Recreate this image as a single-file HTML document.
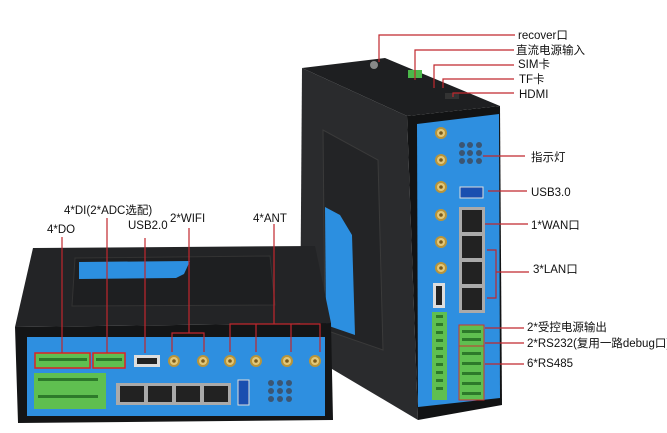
<!DOCTYPE html>
<html><head><meta charset="utf-8"><style>
html,body{margin:0;padding:0;background:#fff;width:667px;height:433px;overflow:hidden}
svg{display:block}
text{font-family:"Liberation Sans","Noto Sans CJK SC",sans-serif;font-size:11.5px;fill:#111}
</style></head><body>
<svg width="667" height="433" viewBox="0 0 667 433" xmlns="http://www.w3.org/2000/svg">
<defs>
<g id="ant"><circle r="6" fill="#b8943a"/><circle r="4" fill="#e3c878"/><circle r="1.8" fill="#7a5a1a"/></g>
</defs>
<!-- Right device -->
<polygon points="302,68 385,58 500,106 407,116" fill="#1e1f21"/>
<polygon points="302,68 407,116 418,420 300,350" fill="#2a2b2d"/>
<polygon points="407,116 500,106 502,405 418,420" fill="#121314"/>
<polygon points="323,130 378,160 383,350 325,330" fill="#232426" stroke="#3a3a3a" stroke-width="1"/>
<polygon points="325,207 340,215 352,235 355,335 326,325" fill="#2c8fe0"/>
<polygon points="417,124 499,114 500,398 418,407" fill="#2e8fe0"/>
<rect x="408" y="70" width="14" height="8" fill="#4cb84a"/>
<rect x="445" y="93" width="14" height="6" fill="#333"/>
<circle cx="374" cy="65" r="4" fill="#888"/>
<use href="#ant" x="441" y="133"/><use href="#ant" x="441" y="160"/><use href="#ant" x="441" y="187"/>
<use href="#ant" x="441" y="215"/><use href="#ant" x="441" y="242"/><use href="#ant" x="441" y="268"/>
<g fill="#3b5572">
<circle cx="462" cy="145" r="3"/><circle cx="470" cy="145" r="3"/><circle cx="479" cy="145" r="3"/>
<circle cx="462" cy="153" r="3"/><circle cx="470" cy="153" r="3"/><circle cx="479" cy="153" r="3"/>
<circle cx="462" cy="161" r="3"/><circle cx="470" cy="161" r="3"/><circle cx="479" cy="161" r="3"/>
</g>
<rect x="460" y="187" width="23" height="11" fill="#1a4fb0" stroke="#ddd"/>
<rect x="433" y="283" width="12" height="25" fill="#ddd"/><rect x="436" y="286" width="6" height="19" fill="#222"/>
<rect x="459" y="207" width="26" height="106" fill="#aaa"/>
<rect x="462" y="210" width="20" height="22" fill="#222"/><rect x="462" y="236" width="20" height="22" fill="#222"/>
<rect x="462" y="262" width="20" height="22" fill="#222"/><rect x="462" y="288" width="20" height="22" fill="#222"/>
<rect x="432" y="312" width="15" height="88" fill="#5fbf50"/>
<g fill="#2d7a2a"><rect x="436" y="315" width="7" height="3"/><rect x="436" y="323" width="7" height="3"/><rect x="436" y="331" width="7" height="3"/><rect x="436" y="339" width="7" height="3"/><rect x="436" y="347" width="7" height="3"/><rect x="436" y="355" width="7" height="3"/><rect x="436" y="363" width="7" height="3"/><rect x="436" y="371" width="7" height="3"/><rect x="436" y="379" width="7" height="3"/><rect x="436" y="387" width="7" height="3"/></g>
<rect x="459" y="325" width="25" height="75" fill="#5fbf50" stroke="#c33" stroke-width="1"/>
<line x1="459" y1="346" x2="484" y2="346" stroke="#c33"/>
<g fill="#2d7a2a"><rect x="462" y="330" width="19" height="3"/><rect x="462" y="338" width="19" height="3"/><rect x="462" y="352" width="19" height="3"/><rect x="462" y="362" width="19" height="3"/><rect x="462" y="372" width="19" height="3"/><rect x="462" y="382" width="19" height="3"/><rect x="462" y="392" width="19" height="3"/></g>
<!-- Left device -->
<polygon points="33,248 315,246 331,323 15,327" fill="#232426"/>
<polygon points="75,258 270,256 275,305 72,306" fill="#1e1f21" stroke="#333"/>
<polygon points="79,262 190,261 184,274 176,278 79,279" fill="#2c8fe0"/>
<polygon points="15,327 331,323 333,420 18,423" fill="#141516"/>
<rect x="27" y="337" width="298" height="79" fill="#2e8fe0"/>
<rect x="35" y="353" width="55" height="15" fill="#5fbf50" stroke="#d22" stroke-width="1.5"/>
<rect x="93" y="353" width="32" height="15" fill="#5fbf50" stroke="#d22" stroke-width="1.5"/>
<rect x="34" y="373" width="72" height="36" fill="#5fbf50"/>
<g fill="#2d7a2a"><rect x="38" y="378" width="60" height="3"/><rect x="38" y="395" width="60" height="3"/><rect x="39" y="358" width="48" height="3"/><rect x="96" y="358" width="26" height="3"/></g>
<rect x="134" y="355" width="26" height="12" fill="#ddd"/><rect x="137" y="358" width="20" height="6" fill="#222"/>
<use href="#ant" x="174" y="361"/><use href="#ant" x="203" y="361"/><use href="#ant" x="230" y="361"/>
<use href="#ant" x="256" y="361"/><use href="#ant" x="287" y="361"/><use href="#ant" x="315" y="361"/>
<rect x="116" y="383" width="115" height="22" fill="#aaa"/>
<rect x="120" y="386" width="24" height="16" fill="#222"/><rect x="148" y="386" width="24" height="16" fill="#222"/>
<rect x="176" y="386" width="24" height="16" fill="#222"/><rect x="204" y="386" width="24" height="16" fill="#222"/>
<rect x="238" y="380" width="11" height="25" fill="#1a4fb0" stroke="#ddd"/>
<g fill="#3b5572"><circle cx="271" cy="383" r="3"/><circle cx="280" cy="383" r="3"/><circle cx="289" cy="383" r="3"/><circle cx="271" cy="391" r="3"/><circle cx="280" cy="391" r="3"/><circle cx="289" cy="391" r="3"/><circle cx="271" cy="399" r="3"/><circle cx="280" cy="399" r="3"/><circle cx="289" cy="399" r="3"/></g>
<!-- callout lines -->
<g stroke="#c0272d" stroke-width="1.2" fill="none">
<polyline points="379,62 379,35 515,35"/>
<polyline points="415,80 415,50 514,50"/>
<polyline points="434,88 434,65 514,65"/>
<polyline points="443,88 443,79 514,79"/>
<polyline points="453,97 453,93 514,93"/>
<line x1="483" y1="156" x2="525" y2="156"/>
<line x1="488" y1="191" x2="527" y2="191"/>
<line x1="485" y1="224" x2="528" y2="224"/>
<polyline points="487,250 496,250 496,298 487,298"/>
<line x1="496" y1="272" x2="529" y2="272"/>
<line x1="485" y1="328" x2="524" y2="328"/>
<line x1="485" y1="343" x2="524" y2="343"/>
<line x1="485" y1="364" x2="524" y2="364"/>
<line x1="62" y1="237" x2="62" y2="353"/>
<line x1="107" y1="218" x2="107" y2="353"/>
<line x1="145" y1="238" x2="145" y2="353"/>
<polyline points="189,228 189,333"/>
<polyline points="172,352 172,333 204,333 204,352"/>
<line x1="274" y1="224" x2="274" y2="324"/>
<polyline points="230,352 230,324 320,324 320,352"/>
<line x1="256" y1="324" x2="256" y2="352"/><line x1="291" y1="324" x2="291" y2="352"/>
</g>
<!-- labels -->
<text x="518" y="39">recover口</text>
<text x="516" y="54">直流电源输入</text>
<text x="518" y="68">SIM卡</text>
<text x="519" y="83">TF卡</text>
<text x="519" y="98">HDMI</text>
<text x="531" y="161">指示灯</text>
<text x="531" y="196">USB3.0</text>
<text x="531" y="229">1*WAN口</text>
<text x="533" y="273">3*LAN口</text>
<text x="527" y="331">2*受控电源输出</text>
<text x="527" y="347">2*RS232(复用一路debug口)</text>
<text x="527" y="367">6*RS485</text>
<text x="64" y="214">4*DI(2*ADC选配)</text>
<text x="47" y="233">4*DO</text>
<text x="128" y="229">USB2.0</text>
<text x="170" y="222">2*WIFI</text>
<text x="253" y="222">4*ANT</text>
</svg>
</body></html>
